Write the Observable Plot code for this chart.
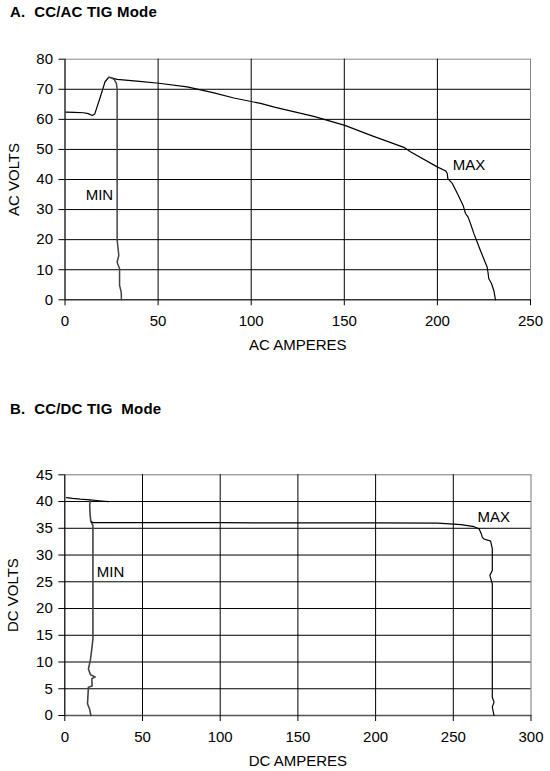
<!DOCTYPE html>
<html>
<head>
<meta charset="utf-8">
<script src="https://cdn.jsdelivr.net/npm/d3@7"></script>
<script src="https://cdn.jsdelivr.net/npm/@observablehq/plot@0.6"></script>
<style>
  body { margin: 0; background: white; }
  #page { position: relative; width: 550px; height: 771px; font-family: "Liberation Sans", Arial, sans-serif; }
  .title { position: absolute; left: 10px; font-size: 15px; font-weight: bold; white-space: pre; letter-spacing: 0.2px; }
  .chart { position: absolute; left: 0; }
</style>
</head>
<body>
<div id="page">
  <div class="title" style="top:3px">A.  CC/AC TIG Mode</div>
  <div class="chart" id="chartA" style="top:0px"></div>
  <div class="title" style="top:400px">B.  CC/DC TIG  Mode</div>
  <div class="chart" id="chartB" style="top:380px"></div>
</div>
<script>
// chart A: CC/AC TIG
const acAmpTicks = [0, 50, 100, 150, 200, 250];
const acVoltTicks = [0, 10, 20, 30, 40, 50, 60, 70, 80];

const acMaxAmps  = [0.5, 5, 10, 12.5, 14.6, 16, 19, 21.5, 23.5, 26, 28, 40, 50.4, 65.6, 80, 90.7, 105, 113, 133.6, 150.3, 165, 182, 185.5, 199.9, 204.5, 205.3, 205.6, 208, 211, 213.3, 214, 215.1, 216.5, 217.8, 219.6, 221.5, 223.1, 225, 226.7, 227.2, 227.6, 229, 230.3, 231.2];
const acMaxVolts = [62.4, 62.3, 62.2, 61.9, 61.3, 61.8, 67.5, 72.5, 74.0, 73.6, 73.3, 72.6, 72, 70.8, 68.8, 67.1, 65.3, 64, 61, 58, 54.5, 50.7, 49.2, 44.2, 42.8, 42, 40.3, 38.7, 35, 32, 31, 28.7, 27.5, 25.3, 22, 19, 16.4, 13.5, 10.9, 9, 7, 5.5, 3.1, 0];

const acMinAmps  = [23.5, 25, 26.5, 27.6, 28, 28, 28.5, 28.9, 28, 29.3, 29.3, 30.2, 30.3];
const acMinVolts = [74, 73.8, 73.2, 72, 70, 20, 17, 14.8, 12.5, 10.3, 4.8, 2.5, 0];

const acLabels = ["MIN", "MAX"];
const acLabelAmps = [18.5, 217];
const acLabelVolts = [34.8, 44.8];

// chart B: CC/DC TIG
const dcAmpTicks = [0, 50, 100, 150, 200, 250, 300];
const dcVoltTicks = [0, 5, 10, 15, 20, 25, 30, 35, 40, 45];

const dcTopAmps  = [1.1, 5, 10, 16.4, 22, 28];
const dcTopVolts = [40.75, 40.6, 40.45, 40.3, 40.15, 40.0];

const dcMinAmps  = [16.4, 16, 16.3, 16.7, 18.1, 18.1, 17.2, 16.4, 15.2, 16.5, 19.5, 17.4, 17.6, 15.2, 14.6, 15.9, 16.8];
const dcMinVolts = [40.3, 39.3, 37.5, 36.4, 35.5, 14.3, 12, 10.3, 8.7, 7.6, 7.2, 6.9, 5.5, 5.3, 2.2, 1.25, 0];

const dcMaxAmps  = [17, 18.5, 50, 100, 150, 200, 240, 255, 263.4, 266.6, 268, 268.7, 269.8, 272, 274, 275.1, 275.1, 273.5, 275.1, 275.1, 276.2, 275.1, 276.2];
const dcMaxVolts = [36.2, 36.05, 36.05, 36.05, 36.0, 36.0, 35.95, 35.7, 35.3, 34.9, 34, 33.3, 33, 32.8, 32.6, 31.2, 27.1, 26.2, 24.6, 3.4, 2.5, 1.6, 0];

const dcLabels = ["MIN", "MAX"];
const dcLabelAmps = [29.4, 276];
const dcLabelVolts = [26.8, 37];

const pts = (xs, ys) => xs.map((x, i) => ({x, y: ys[i]}));
const lbls = (t, xs, ys) => t.map((s, i) => ({s, x: xs[i], y: ys[i]}));

const baseStyle = {fontFamily: "'Liberation Sans', Arial, sans-serif", fontSize: "15px", color: "black", background: "transparent", overflow: "visible"};

document.querySelector("#chartA").append(
  Plot.plot({
    width: 550, height: 360,
    marginLeft: 64.5, marginRight: 20, marginTop: 58.7, marginBottom: 60.7,
    style: baseStyle,
    x: {domain: [0, 250]},
    y: {domain: [0, 80]},
    marks: [
      Plot.frame({stroke: "#888"}),
      Plot.gridX(acAmpTicks.slice(0, -1), {stroke: "black", strokeOpacity: 1}),
      Plot.gridY(acVoltTicks.slice(0, -1), {stroke: "black", strokeOpacity: 1}),
      Plot.axisX(acAmpTicks, {tickSize: 6, tickPadding: 10, label: "AC AMPERES", labelAnchor: "center", labelArrow: "none", labelOffset: 50}),
      Plot.axisY(acVoltTicks, {tickSize: 6, tickPadding: 6, label: "AC VOLTS", labelAnchor: "center", labelArrow: "none", labelOffset: 57}),
      Plot.line(pts(acMaxAmps, acMaxVolts), {x: "x", y: "y", stroke: "black", strokeWidth: 1.2}),
      Plot.line(pts(acMinAmps, acMinVolts), {x: "x", y: "y", stroke: "#444", strokeWidth: 1.5}),
      Plot.text(lbls(acLabels, acLabelAmps, acLabelVolts), {x: "x", y: "y", text: "s", fontSize: 15})
    ]
  })
);

document.querySelector("#chartB").append(
  Plot.plot({
    width: 550, height: 391,
    marginLeft: 64.3, marginRight: 19.5, marginTop: 94.3, marginBottom: 56,
    style: baseStyle,
    x: {domain: [0, 300]},
    y: {domain: [0, 45]},
    marks: [
      Plot.frame({stroke: "#777"}),
      Plot.gridX(dcAmpTicks.slice(0, -1), {stroke: "black", strokeOpacity: 1}),
      Plot.gridY(dcVoltTicks.slice(1, -1), {stroke: "black", strokeOpacity: 1}),
      Plot.ruleY([0], {stroke: "#555", strokeWidth: 1.5}),
      Plot.axisX(dcAmpTicks, {tickSize: 6, tickPadding: 10, label: "DC AMPERES", labelAnchor: "center", labelArrow: "none", labelOffset: 50}),
      Plot.axisY(dcVoltTicks, {tickSize: 6, tickPadding: 6, label: "DC VOLTS", labelAnchor: "center", labelArrow: "none", labelOffset: 57}),
      Plot.line(pts(dcTopAmps, dcTopVolts), {x: "x", y: "y", stroke: "black", strokeWidth: 1.2}),
      Plot.line(pts(dcMinAmps, dcMinVolts), {x: "x", y: "y", stroke: "#444", strokeWidth: 1.6}),
      Plot.line(pts(dcMaxAmps, dcMaxVolts), {x: "x", y: "y", stroke: "black", strokeWidth: 1.2}),
      Plot.text(lbls(dcLabels, dcLabelAmps, dcLabelVolts), {x: "x", y: "y", text: "s", fontSize: 15})
    ]
  })
);
</script>
</body>
</html>
